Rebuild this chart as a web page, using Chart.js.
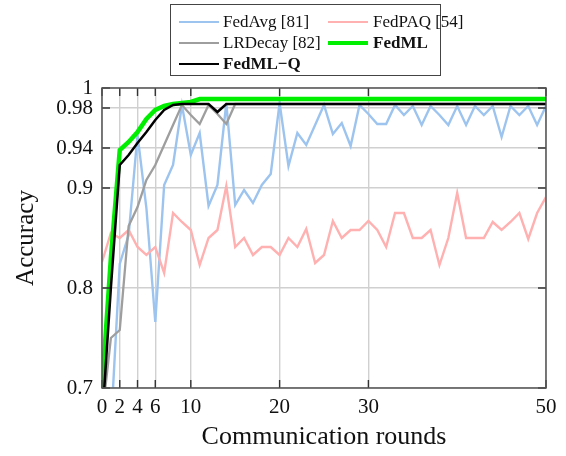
<!DOCTYPE html>
<html>
<head>
<meta charset="utf-8">
<script src="https://cdn.jsdelivr.net/npm/chart.js@4/dist/chart.umd.min.js"></script>
<style>
  body { margin: 0; background: #fff; }
  #wrap { position: relative; width: 566px; height: 456px; }
  #legend { position: absolute; left: 170px; top: 4px; width: 271px; height: 72px;
    border: 1.3px solid #444; background: #fff; box-sizing: border-box; }
  .item { position: absolute; height: 20px; line-height: 20px;
    font-family: "Liberation Serif", serif; font-size: 17px; color: #111; white-space: nowrap; }
  .swatch { position: absolute; width: 40px; }
</style>
</head>
<body>
<div id="wrap">
  <canvas id="chart" width="566" height="456"></canvas>
  <div id="legend"></div>
</div>
<script>
const rounds = [0, 1, 2, 3, 4, 5, 6, 7, 8, 9, 10, 11, 12, 13, 14, 15, 16, 17, 18, 19, 20,
  21, 22, 23, 24, 25, 26, 27, 28, 29, 30, 31, 32, 33, 34, 35, 36, 37, 38, 39, 40,
  41, 42, 43, 44, 45, 46, 47, 48, 49, 50];

const fedAvg = [0.55, 0.66, 0.824, 0.853, 0.953, 0.88, 0.766, 0.903, 0.923, 0.983,
  0.933, 0.955, 0.882, 0.903, 0.985, 0.883, 0.898, 0.885, 0.903, 0.914,
  0.985, 0.922, 0.955, 0.943, 0.963, 0.983, 0.954, 0.965, 0.942, 0.983,
  0.974, 0.964, 0.964, 0.983, 0.973, 0.982, 0.963, 0.982, 0.973, 0.963,
  0.982, 0.963, 0.982, 0.973, 0.982, 0.951, 0.982, 0.973, 0.982, 0.963, 0.982];

const fedPAQ = [0.826, 0.855, 0.850, 0.858, 0.841, 0.833, 0.841, 0.815, 0.875, 0.866,
  0.858, 0.823, 0.850, 0.858, 0.902, 0.841, 0.850, 0.833, 0.841, 0.841,
  0.833, 0.850, 0.841, 0.859, 0.825, 0.833, 0.867, 0.850, 0.858, 0.858,
  0.867, 0.858, 0.841, 0.875, 0.875, 0.850, 0.850, 0.858, 0.823, 0.850,
  0.895, 0.850, 0.850, 0.850, 0.866, 0.858, 0.866, 0.875, 0.849, 0.875, 0.891];

const lrDecay = [0.67, 0.75, 0.758, 0.862, 0.881, 0.908, 0.923, 0.943, 0.963, 0.983,
  0.973, 0.964, 0.983, 0.974, 0.964, 0.984, 0.984, 0.984, 0.984, 0.984,
  0.984, 0.984, 0.984, 0.984, 0.984, 0.984, 0.984, 0.984, 0.984, 0.984,
  0.984, 0.984, 0.984, 0.984, 0.984, 0.984, 0.984, 0.984, 0.984, 0.984,
  0.984, 0.984, 0.984, 0.984, 0.984, 0.984, 0.984, 0.984, 0.984, 0.984, 0.984];

const fedML = [0.70, 0.83, 0.938, 0.946, 0.956, 0.969, 0.978, 0.982, 0.984, 0.985,
  0.986, 0.989, 0.989, 0.989, 0.989, 0.989, 0.989, 0.989, 0.989, 0.989,
  0.989, 0.989, 0.989, 0.989, 0.989, 0.989, 0.989, 0.989, 0.989, 0.989,
  0.989, 0.989, 0.989, 0.989, 0.989, 0.989, 0.989, 0.989, 0.989, 0.989,
  0.989, 0.989, 0.989, 0.989, 0.989, 0.989, 0.989, 0.989, 0.989, 0.989, 0.989];

const fedMLQ = [0.665, 0.80, 0.923, 0.933, 0.945, 0.956, 0.968, 0.978, 0.983, 0.984,
  0.984, 0.984, 0.984, 0.976, 0.984, 0.984, 0.984, 0.984, 0.984, 0.984,
  0.984, 0.984, 0.984, 0.984, 0.984, 0.984, 0.984, 0.984, 0.984, 0.984,
  0.984, 0.984, 0.984, 0.984, 0.984, 0.984, 0.984, 0.984, 0.984, 0.984,
  0.984, 0.984, 0.984, 0.984, 0.984, 0.984, 0.984, 0.984, 0.984, 0.984, 0.984];

const xTicks = [0, 2, 4, 6, 10, 20, 30, 50];
const yTicks = [0.7, 0.8, 0.9, 0.94, 0.98, 1];

const series = [
  { label: "FedAvg [81]", data: fedAvg, color: "#9dc4ef", width: 2.4, bold: false, order: 5 },
  { label: "FedPAQ [54]", data: fedPAQ, color: "#ffb0b0", width: 2.4, bold: false, order: 4 },
  { label: "LRDecay [82]", data: lrDecay, color: "#9e9e9e", width: 2.3, bold: false, order: 3 },
  { label: "FedML", data: fedML, color: "#00ee00", width: 4.5, bold: true, order: 2 },
  { label: "FedML\u2212Q", data: fedMLQ, color: "#000000", width: 2.5, bold: true, order: 1 },
];

function points(vals) {
  return rounds.map((r, i) => ({ x: r, y: vals[i] }));
}

// inward tick marks on all four sides plus the full frame
const frame = {
  id: "frame",
  afterDraw(chart) {
    const { ctx, chartArea: a, scales } = chart;
    ctx.save();
    ctx.strokeStyle = "#333";
    ctx.lineWidth = 1.4;
    ctx.beginPath();
    xTicks.forEach(v => {
      const px = scales.x.getPixelForValue(v);
      ctx.moveTo(px, a.bottom); ctx.lineTo(px, a.bottom - 8);
      ctx.moveTo(px, a.top); ctx.lineTo(px, a.top + 8);
    });
    yTicks.forEach(v => {
      const py = scales.y.getPixelForValue(v);
      ctx.moveTo(a.left, py); ctx.lineTo(a.left + 8, py);
      ctx.moveTo(a.right, py); ctx.lineTo(a.right - 8, py);
    });
    ctx.stroke();
    ctx.strokeStyle = "#555";
    ctx.lineWidth = 1.5;
    ctx.strokeRect(a.left, a.top, a.right - a.left, a.bottom - a.top);
    ctx.restore();
  }
};

Chart.defaults.font.family = "Liberation Serif";
Chart.defaults.color = "#111";

new Chart(document.getElementById("chart"), {
  type: "line",
  data: {
    datasets: series.map(s => ({
      label: s.label,
      data: points(s.data),
      borderColor: s.color,
      backgroundColor: s.color,
      borderWidth: s.width,
      pointRadius: 0,
      tension: 0,
      fill: false,
      order: s.order,
    })),
  },
  options: {
    responsive: false,
    animation: false,
    layout: { padding: { top: 88, right: 20, left: 0, bottom: 0 } },
    plugins: { legend: { display: false }, tooltip: { enabled: false } },
    scales: {
      x: {
        type: "linear",
        min: 0,
        max: 50,
        afterBuildTicks: s => { s.ticks = xTicks.map(v => ({ value: v })); },
        afterFit: s => { s.height = 68; },
        grid: { color: "#d0d0d0", lineWidth: 1.4, drawTicks: false },
        border: { display: false },
        ticks: { font: { size: 21 }, padding: 7, maxRotation: 0, autoSkip: false,
          callback: v => String(v) },
        title: { display: true, text: "Communication rounds", font: { size: 26 },
          padding: { top: 0, bottom: 3 } },
      },
      y: {
        type: "linear",
        min: 0.7,
        max: 1,
        afterBuildTicks: s => { s.ticks = yTicks.map(v => ({ value: v })); },
        afterFit: s => { s.width = 102; },
        grid: { color: "#d0d0d0", lineWidth: 1.4, drawTicks: false },
        border: { display: false },
        ticks: { font: { size: 21 }, padding: 9, autoSkip: false,
          callback: v => String(v) },
        title: { display: true, text: "Accuracy", font: { size: 25 },
          padding: { top: 11, bottom: 0 } },
      },
    },
  },
  plugins: [frame],
});

// legend laid out in two columns like the original
const legend = document.getElementById("legend");
const cols = [{ line: 8, text: 52 }, { line: 157, text: 202 }];
const rowsY = [17, 38, 59];
series.forEach((s, i) => {
  const c = cols[i % 2], y = rowsY[Math.floor(i / 2)];
  const sw = document.createElement("div");
  sw.className = "swatch";
  sw.style.left = c.line + "px";
  sw.style.top = (y - s.width / 2) + "px";
  sw.style.height = s.width + "px";
  sw.style.background = s.color;
  legend.appendChild(sw);
  const t = document.createElement("div");
  t.className = "item";
  t.style.left = c.text + "px";
  t.style.top = (y - 10) + "px";
  t.style.fontWeight = s.bold ? "bold" : "normal";
  t.textContent = s.label;
  legend.appendChild(t);
});
</script>
</body>
</html>
